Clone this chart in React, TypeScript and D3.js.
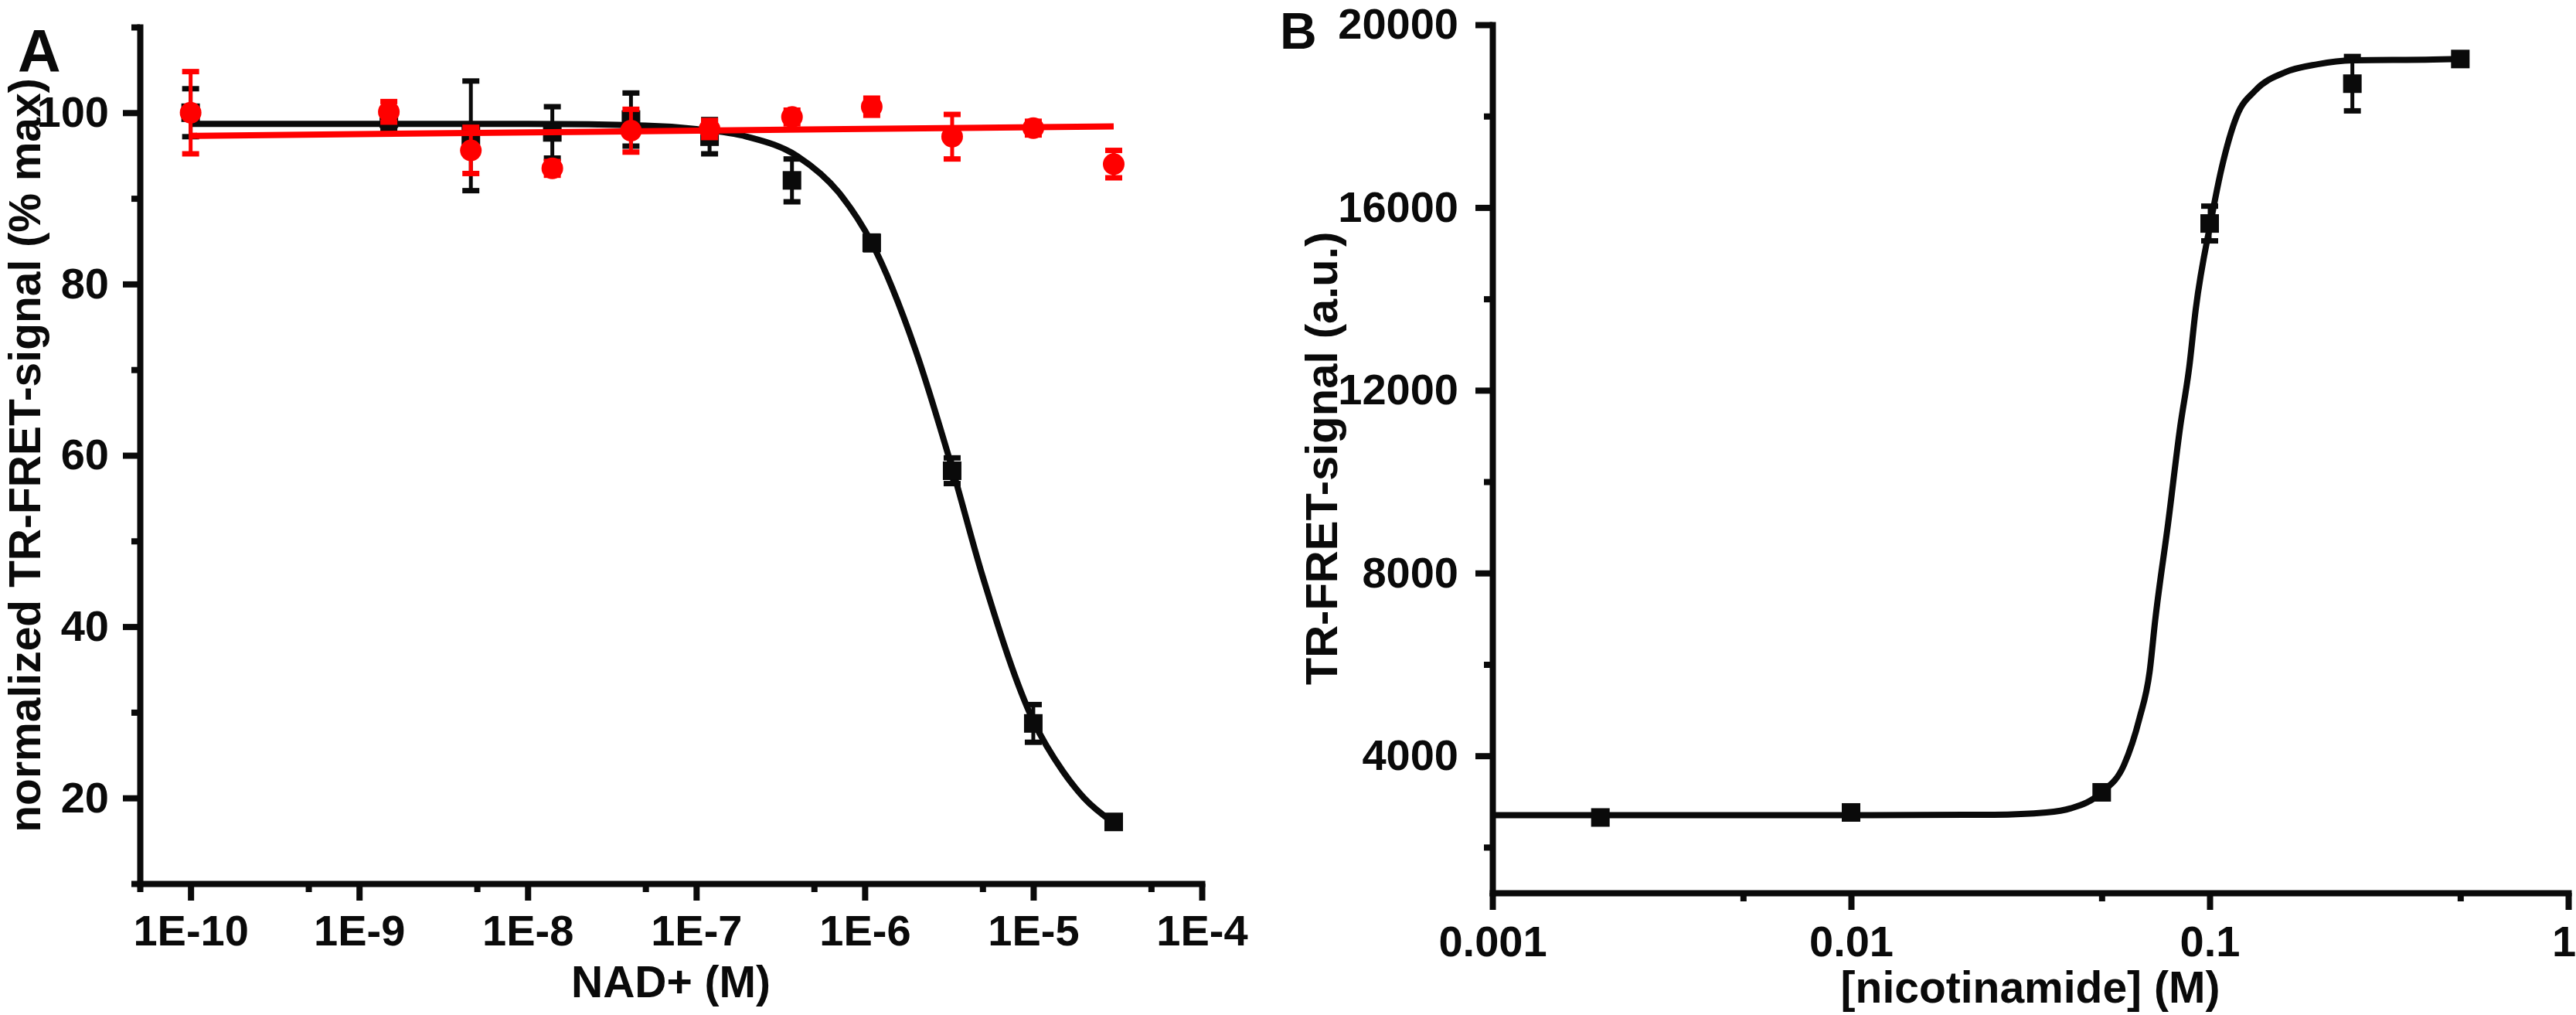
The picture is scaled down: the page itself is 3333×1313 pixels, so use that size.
import { useEffect, useRef } from "react"
import * as d3 from "d3"

const W = 3333
const H = 1313
const FONT = "'Liberation Sans', Arial, sans-serif"

// panel A - NAD+ titration (black = fitted series, red = control)
const nadConc = [1e-10, 1.5e-9, 4.6e-9, 1.4e-8, 4.1e-8, 1.2e-7, 3.7e-7, 1.1e-6, 3.3e-6, 1e-5, 3e-5]
const blackMean = [100.0, 99.3, 97.3, 97.7, 99.2, 97.2, 92.1, 84.8, 58.2, 28.7, 17.2]
const blackErr = [2.8, 1.2, 6.4, 3.0, 3.1, 2.0, 2.5, 0.8, 1.5, 2.2, 0.6]
const redMean = [100.0, 100.1, 95.6, 93.5, 97.9, 98.1, 99.5, 100.7, 97.2, 98.2, 94.0]
const redErr = [4.8, 1.2, 2.7, 0.8, 2.5, 1.0, 0.8, 1.0, 2.6, 0.8, 1.6]

// fitted curves
const blackFitX = [1e-10, 1e-9, 1e-8, 5e-8, 1e-7, 2e-7, 4e-7, 7e-7, 1.1e-6, 2e-6, 3.3e-6, 5e-6, 1e-5, 1.5e-5, 2e-5, 3e-5]
const blackFitY = [98.7, 98.7, 98.7, 98.5, 98.1, 97.2, 94.9, 90.7, 84.8, 72.3, 58.5, 45.9, 29.0, 23.1, 20.0, 17.1]
const redFitX = [1e-10, 3e-5]
const redFitY = [97.3, 98.4]

const aXTicks = [1e-10, 1e-9, 1e-8, 1e-7, 1e-6, 1e-5, 1e-4]
const aXTickLabels = ["1E-10", "1E-9", "1E-8", "1E-7", "1E-6", "1E-5", "1E-4"]
const aXMinor = [5e-11, 5e-10, 5e-9, 5e-8, 5e-7, 5e-6, 5e-5]
const aYTicks = [20, 40, 60, 80, 100]
const aYMinor = [10, 30, 50, 70, 90, 110]

// panel B - nicotinamide
const nicConc = [0.002, 0.01, 0.05, 0.1, 0.25, 0.5]
const nicMean = [2650, 2760, 3200, 15650, 18710, 19250]
const nicErr = [40, 40, 60, 380, 595, 60]
const nicFitX = [0.001, 0.01, 0.025, 0.035, 0.041, 0.05, 0.0577, 0.0637, 0.068, 0.0705, 0.0766, 0.0828, 0.0877, 0.0914, 0.101, 0.108, 0.119, 0.134, 0.163, 0.2, 0.25, 0.42, 0.5]
const nicFitY = [2700, 2700, 2710, 2760, 2850, 3200, 3800, 4815, 5833, 6970, 9091, 11211, 12500, 13757, 15737, 16862, 18000, 18560, 18965, 19135, 19220, 19237, 19250]

const bXTicks = [0.001, 0.01, 0.1, 1]
const bXTickLabels = ["0.001", "0.01", "0.1", "1"]
const bXMinor = [0.005, 0.05, 0.5]
const bYTicks = [4000, 8000, 12000, 16000, 20000]
const bYMinor = [2000, 6000, 10000, 14000, 18000]

const INK = "#0a0a0a"
const RED = "#ff0000"

function styleAxis(g) {
  g.attr("font-family", FONT).attr("font-size", 56).attr("font-weight", "bold")
  g.select(".domain").attr("stroke", INK).attr("stroke-width", 8).attr("stroke-linecap", "square")
  g.selectAll(".tick line").attr("stroke", INK).attr("stroke-width", 8)
  g.selectAll(".tick text").attr("fill", INK)
}

function drawAxes(svg, x, y, o) {
  // minor ticks first, no domain
  svg.append("g")
    .attr("transform", `translate(${x.range()[0]},0)`)
    .call(d3.axisLeft(y).tickValues(o.yMinor).tickSize(11).tickFormat(() => ""))
    .call(g => g.select(".domain").remove())
    .call(styleAxis)
  svg.append("g")
    .attr("transform", `translate(0,${y.range()[0]})`)
    .call(d3.axisBottom(x).tickValues(o.xMinor).tickSize(11).tickFormat(() => ""))
    .call(g => g.select(".domain").remove())
    .call(styleAxis)

  svg.append("g")
    .attr("transform", `translate(${x.range()[0]},0)`)
    .call(d3.axisLeft(y).tickValues(o.yTicks).tickSize(22).tickSizeOuter(0).tickPadding(o.yPad).tickFormat(d3.format("d")))
    .call(styleAxis)
  const xg = svg.append("g")
    .attr("transform", `translate(0,${y.range()[0]})`)
    .call(d3.axisBottom(x).tickValues(o.xTicks).tickSize(22).tickSizeOuter(0).tickPadding(o.xPad)
      .tickFormat((d, i) => o.xLabels[i]))
    .call(styleAxis)
  // keep the last label inside the page edge
  if (o.lastShift) {
    xg.selectAll(".tick text").filter((d, i, n) => i === n.length - 1).attr("dx", o.lastShift)
  }
}

function drawSeries(svg, x, y, xs, mean, err, color, shape) {
  const g = svg.append("g")
  const pts = xs.map((c, i) => ({ c, m: mean[i], e: err[i] }))

  g.selectAll("line.bar").data(pts).join("line")
    .attr("x1", d => x(d.c)).attr("x2", d => x(d.c))
    .attr("y1", d => y(d.m + d.e)).attr("y2", d => y(d.m - d.e))
    .attr("stroke", color).attr("stroke-width", 5)
  for (const sgn of [1, -1]) {
    g.selectAll(null).data(pts).join("line")
      .attr("x1", d => x(d.c) - 11).attr("x2", d => x(d.c) + 11)
      .attr("y1", d => y(d.m + sgn * d.e)).attr("y2", d => y(d.m + sgn * d.e))
      .attr("stroke", color).attr("stroke-width", 7)
  }

  if (shape === "square") {
    g.selectAll("rect").data(pts).join("rect")
      .attr("x", d => x(d.c) - 12).attr("y", d => y(d.m) - 12)
      .attr("width", 24).attr("height", 24)
      .attr("fill", color)
  } else {
    g.selectAll("circle").data(pts).join("circle")
      .attr("cx", d => x(d.c)).attr("cy", d => y(d.m))
      .attr("r", 14)
      .attr("fill", color)
  }
}

function drawFit(svg, x, y, fx, fy, color) {
  const line = d3.line()
    .x(d => x(d[0]))
    .y(d => y(d[1]))
    .curve(d3.curveMonotoneX)
  svg.append("path")
    .datum(fx.map((v, i) => [v, fy[i]]))
    .attr("fill", "none")
    .attr("stroke", color)
    .attr("stroke-width", 8)
    .attr("stroke-linejoin", "round")
    .attr("d", line)
}

export default function App() {
  const svgRef = useRef(null)

  useEffect(() => {
    const svg = d3.select(svgRef.current)
    svg.selectAll("*").remove()

    // ----- panel A
    const xA = d3.scaleLog().domain([5e-11, 1e-4]).range([181, 1555])
    const yA = d3.scaleLinear().domain([10, 110]).range([1143, 35])

    drawFit(svg, xA, yA, blackFitX, blackFitY, INK)
    drawSeries(svg, xA, yA, nadConc, blackMean, blackErr, INK, "square")
    drawFit(svg, xA, yA, redFitX, redFitY, RED)
    drawSeries(svg, xA, yA, nadConc, redMean, redErr, RED, "circle")
    drawAxes(svg, xA, yA, {
      xTicks: aXTicks, xLabels: aXTickLabels, xMinor: aXMinor,
      yTicks: aYTicks, yMinor: aYMinor, xPad: 18, yPad: 18,
    })

    svg.append("text").attr("x", 23).attr("y", 93)
      .attr("font-size", 77).text("A")
    svg.append("text")
      .attr("transform", "translate(52,589) rotate(-90)")
      .attr("text-anchor", "middle").attr("font-size", 57)
      .text("normalized TR-FRET-signal (% max)")
    svg.append("text").attr("x", 868).attr("y", 1290)
      .attr("text-anchor", "middle").attr("font-size", 57)
      .text("NAD+ (M)")

    // ----- panel B
    const xB = d3.scaleLog().domain([0.001, 1]).range([1931, 3323])
    const yB = d3.scaleLinear().domain([1000, 20000]).range([1155, 32])

    drawFit(svg, xB, yB, nicFitX, nicFitY, INK)
    drawSeries(svg, xB, yB, nicConc, nicMean, nicErr, INK, "square")
    drawAxes(svg, xB, yB, {
      xTicks: bXTicks, xLabels: bXTickLabels, xMinor: bXMinor,
      yTicks: bYTicks, yMinor: bYMinor, xPad: 20, yPad: 22, lastShift: -6,
    })

    svg.append("text").attr("x", 1656).attr("y", 63)
      .attr("font-size", 66).text("B")
    svg.append("text")
      .attr("transform", "translate(1730,593) rotate(-90)")
      .attr("text-anchor", "middle").attr("font-size", 58)
      .text("TR-FRET-signal (a.u.)")
    svg.append("text").attr("x", 2627).attr("y", 1297)
      .attr("text-anchor", "middle").attr("font-size", 57)
      .text("[nicotinamide] (M)")
  }, [])

  return (
    <svg
      ref={svgRef}
      width={W}
      height={H}
      fontFamily={FONT}
      fontWeight="bold"
      fill={INK}
      style={{ position: "absolute", left: 0, top: 0, background: "#fff", display: "block" }}
    />
  )
}
